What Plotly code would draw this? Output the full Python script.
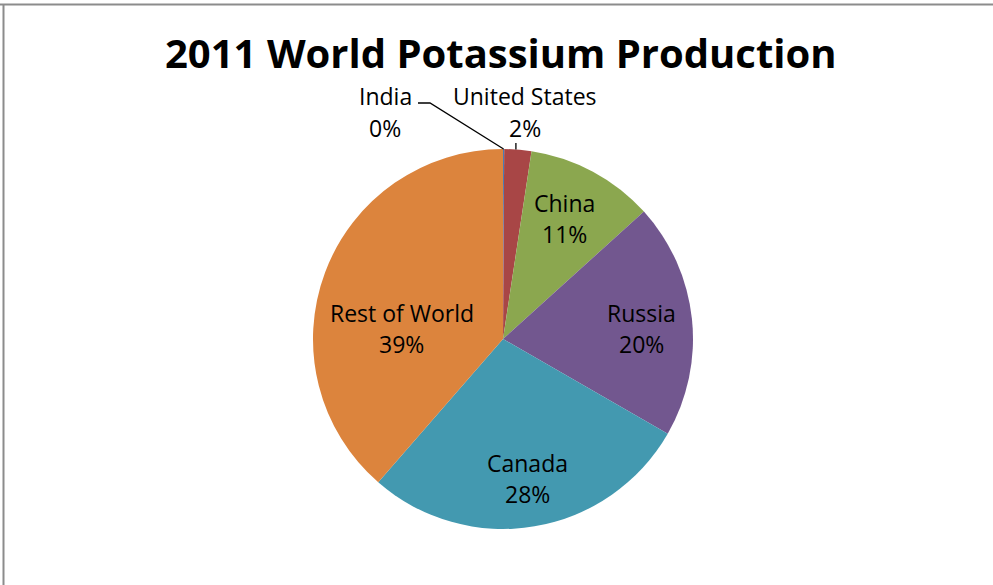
import math
import plotly.graph_objects as go

# ---- data ----
countries = ["India", "United States", "China", "Russia", "Canada", "Rest of World"]
shares = [0.1, 2.3, 10.9, 20.0, 28.1, 38.6]
colors = ["#4A7DB5", "#A84646", "#8BA74F", "#72578F", "#4399B0", "#DC843D"]
title_text = "2011 World Potassium Production"

# ---- layout constants (pixels) ----
W, H = 993, 585
CX, CY, R = 503, 339, 190
FONT = "'Open Sans', sans-serif"
LABEL_SIZE = 23
# label line centres: (x, y_name, y_percent)
label_pos = {
    "India": (385, 96.5, 127.5),
    "United States": (525, 96.5, 127.5),
    "China": (564, 203, 234),
    "Russia": (641.5, 313, 344),
    "Canada": (527.5, 462.5, 494),
    "Rest of World": (401.5, 313, 344),
}

def px(x):
    return x / W

def py(y):
    return 1 - y / H

fig = go.Figure(go.Pie(
    labels=countries,
    values=shares,
    sort=False,
    direction="clockwise",
    rotation=0,
    marker=dict(colors=colors, line=dict(width=0)),
    textinfo="none",
    hoverinfo="label+percent",
    showlegend=False,
    domain=dict(x=[px(CX - R), px(CX + R)], y=[py(CY + R), py(CY - R)]),
))

total = sum(shares)
annotations = []
for name, v in zip(countries, shares):
    x, y1, y2 = label_pos[name]
    pct = f"{round(100 * v / total):.0f}%"
    for txt, yy in ((name, y1), (pct, y2)):
        annotations.append(dict(
            x=px(x), y=py(yy), xref="paper", yref="paper",
            text=txt, showarrow=False, xanchor="center", yanchor="middle",
            font=dict(family=FONT, size=LABEL_SIZE, color="#000000"),
        ))

annotations.append(dict(
    x=px(501), y=py(52.5), xref="paper", yref="paper",
    text=f"<b>{title_text}</b>", showarrow=False, xanchor="center", yanchor="middle",
    font=dict(family=FONT, size=40, color="#000000"),
))

# leader lines computed from slice mid-angles
cum = 0
mids = []
for v in shares:
    mids.append((cum + v / 2) / total * 2 * math.pi)
    cum += v

def edge(a):
    return CX + R * math.sin(a), CY - R * math.cos(a)

shapes = []
ix, iy = edge(mids[0])
shapes.append(dict(type="path", xref="paper", yref="paper",
                   path=f"M {px(418)} {py(103)} L {px(430)} {py(103)} L {px(ix)} {py(iy)}",
                   line=dict(color="#000000", width=1.3)))
ux, uy = edge(mids[1])
shapes.append(dict(type="line", xref="paper", yref="paper",
                   x0=px(ux - 2), y0=py(uy), x1=px(ux - 2), y1=py(143),
                   line=dict(color="#000000", width=1.3)))
# chart border (top and left)
shapes.append(dict(type="line", xref="paper", yref="paper",
                   x0=0, y0=py(4.5), x1=1, y1=py(4.5),
                   line=dict(color="#8C8C8C", width=2)))
shapes.append(dict(type="line", xref="paper", yref="paper",
                   x0=px(3.5), y0=0, x1=px(3.5), y1=py(4.5),
                   line=dict(color="#8C8C8C", width=2)))

fig.update_layout(
    width=W, height=H, autosize=False,
    margin=dict(l=0, r=0, t=0, b=0),
    paper_bgcolor="white", plot_bgcolor="white",
    annotations=annotations, shapes=shapes,
)

fig.write_html("out.html", config={"displayModeBar": False},
               post_script="document.body.style.margin='0';document.body.style.overflow='hidden';")
